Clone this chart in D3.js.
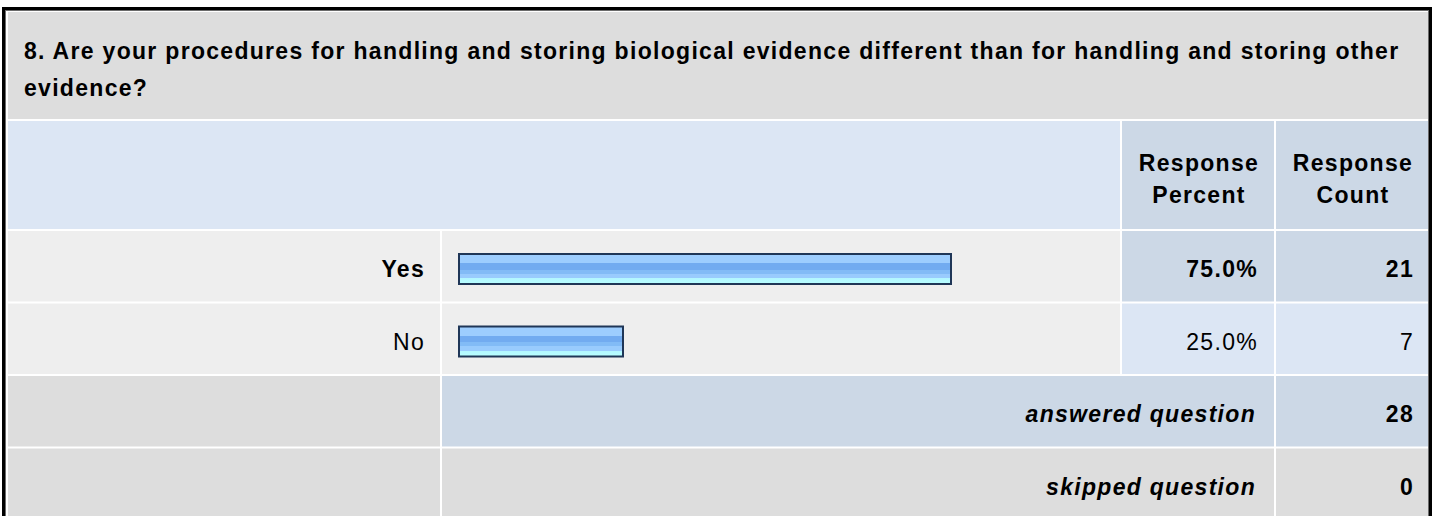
<!DOCTYPE html>
<html>
<head>
<meta charset="utf-8">
<script src="https://cdn.jsdelivr.net/npm/d3@7"></script>
<style>
  html, body { margin: 0; padding: 0; background: #fff; }
  svg { display: block; }
  text { font-family: "Liberation Sans", Arial, sans-serif; font-size: 23px; letter-spacing: 1.3px; fill: #000; }
</style>
</head>
<body>
<svg width="1438" height="516"></svg>
<script>
  const titleLines = [
    '8. Are your procedures for handling and storing biological evidence different than for handling and storing other',
    'evidence?'
  ];
  const headerLabels = [['Response', 'Percent'], ['Response', 'Count']];
  const categories = ['Yes', 'No'];
  const percents = [75.0, 25.0];
  const counts = [21, 7];
  const summaryLabels = ['answered question', 'skipped question'];
  const summaryValues = [28, 0];

  const svg = d3.select('svg');

  // column edges of the table
  const col = {
    label: [8, 440],
    bar: [442, 1120],
    pct: [1122, 1274],
    cnt: [1276, 1428]
  };
  const rowH = 70, gap = 2;
  const rowsTop = 231;

  const rowY = d3.scaleBand()
    .domain(d3.range(categories.length + summaryLabels.length))
    .range([rowsTop, rowsTop + 4 * (rowH + gap)])
    .paddingInner(gap / (rowH + gap))
    .paddingOuter(0);

  const x = d3.scaleLinear().domain([0, 100]).range([0, 656]);
  const fmtPct = d3.format('.1f');

  const defs = svg.append('defs');
  const grad = defs.append('linearGradient')
    .attr('id', 'barGrad')
    .attr('x1', 0).attr('y1', 0).attr('x2', 0).attr('y2', 1);
  [
    [0, '#9dcdfe'], [0.3, '#9dcdfe'], [0.3, '#72abf0'], [0.52, '#72abf0'],
    [0.52, '#82bbf6'], [0.66, '#82bbf6'], [0.66, '#99cbfd'], [0.8, '#99cbfd'],
    [0.8, '#b2f6ff'], [1, '#b8ffff']
  ].forEach(([o, c]) => grad.append('stop').attr('offset', o).attr('stop-color', c));

  const cell = (x0, x1, y0, y1, fill) =>
    svg.append('rect')
      .attr('x', x0).attr('y', y0)
      .attr('width', x1 - x0).attr('height', y1 - y0)
      .attr('fill', fill);

  // frame
  svg.append('rect')
    .attr('x', 3.5).attr('y', 8.5)
    .attr('width', 1427).attr('height', 600)
    .attr('fill', '#fff')
    .attr('stroke', '#000').attr('stroke-width', 3);
  svg.append('rect')
    .attr('x', 5.5).attr('y', 10.5)
    .attr('width', 1423).attr('height', 600)
    .attr('fill', 'none')
    .attr('stroke', '#6b6b6b').attr('stroke-width', 1);

  // title row
  cell(col.label[0], col.cnt[1], 12, 119, '#dddddd');
  svg.append('g').selectAll('text').data(titleLines)
    .join('text')
      .attr('x', 24)
      .attr('y', (d, i) => 59 + i * 37)
      .attr('font-weight', 'bold')
      .text(d => d);

  // header row
  cell(col.label[0], col.bar[1], 121, 229, '#dce6f4');
  [col.pct, col.cnt].forEach((c, i) => {
    cell(c[0], c[1], 121, 229, '#ccd8e6');
    svg.append('g').selectAll('text').data(headerLabels[i])
      .join('text')
        .attr('x', (c[0] + c[1]) / 2 + 1)
        .attr('y', (d, j) => 171 + j * 32)
        .attr('text-anchor', 'middle')
        .attr('font-weight', 'bold')
        .text(d => d);
  });

  // response rows
  categories.forEach((cat, i) => {
    const y0 = rowY(i), y1 = y0 + rowY.bandwidth();
    const top = i === 0;
    const valFill = top ? '#ccd8e6' : '#dce6f4';
    cell(col.label[0], col.label[1], y0, y1, '#eeeeee');
    cell(col.bar[0], col.bar[1], y0, y1, '#eeeeee');
    cell(col.pct[0], col.pct[1], y0, y1, valFill);
    cell(col.cnt[0], col.cnt[1], y0, y1, valFill);

    const base = y0 + 46;
    svg.append('text')
      .attr('x', 425).attr('y', base)
      .attr('text-anchor', 'end')
      .attr('font-weight', top ? 'bold' : 'normal')
      .text(cat);

    svg.append('rect')
      .attr('x', 459)
      .attr('y', y0 + 23)
      .attr('width', x(percents[i]))
      .attr('height', 30)
      .attr('fill', 'url(#barGrad)')
      .attr('stroke', '#1f3657')
      .attr('stroke-width', 2);

    svg.append('text')
      .attr('x', 1258).attr('y', base)
      .attr('text-anchor', 'end')
      .attr('font-weight', top ? 'bold' : 'normal')
      .text(fmtPct(percents[i]) + '%');
    svg.append('text')
      .attr('x', 1414).attr('y', base)
      .attr('text-anchor', 'end')
      .attr('font-weight', top ? 'bold' : 'normal')
      .text(counts[i]);
  });

  // answered / skipped rows
  summaryLabels.forEach((lab, i) => {
    const y0 = rowY(categories.length + i), y1 = y0 + rowY.bandwidth();
    const fill = i === 0 ? '#ccd8e6' : '#dddddd';
    cell(col.label[0], col.label[1], y0, y1, '#dddddd');
    cell(col.bar[0], col.pct[1], y0, y1, fill);
    cell(col.cnt[0], col.cnt[1], y0, y1, fill);

    svg.append('text')
      .attr('x', 1256).attr('y', y0 + 46)
      .attr('text-anchor', 'end')
      .attr('font-weight', 'bold')
      .attr('font-style', 'italic')
      .text(lab);
    svg.append('text')
      .attr('x', 1414).attr('y', y0 + 46)
      .attr('text-anchor', 'end')
      .attr('font-weight', 'bold')
      .text(summaryValues[i]);
  });
</script>
</body>
</html>
